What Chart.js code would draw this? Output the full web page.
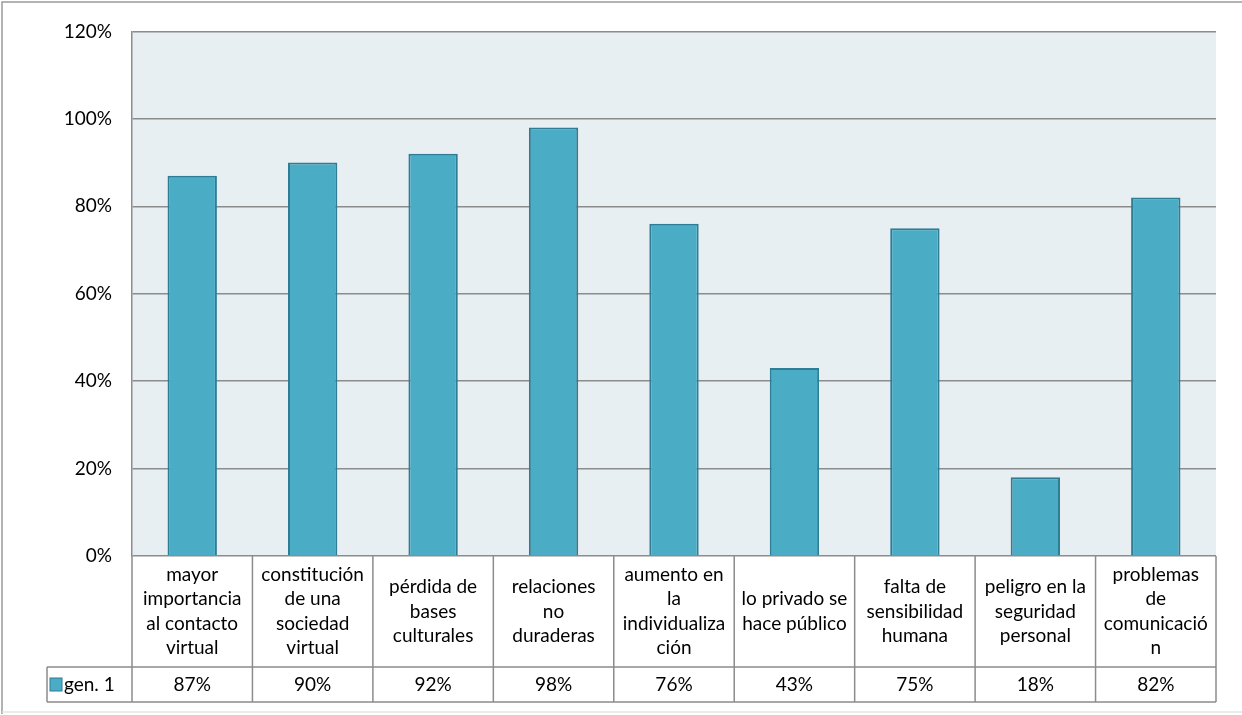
<!DOCTYPE html>
<html>
<head>
<meta charset="utf-8">
<script src="https://cdn.jsdelivr.net/npm/chart.js@4/dist/chart.umd.min.js"></script>
<style>
  body { margin: 0; background: #fff; }
  canvas { display: block; }
</style>
</head>
<body>
<canvas id="grafik" width="1242" height="715"></canvas>
<script>
// datos del grafico
const categorias = [
    ['mayor', 'importancia', 'al contacto', 'virtual'],
    ['constitución', 'de una', 'sociedad', 'virtual'],
    ['pérdida de', 'bases', 'culturales'],
    ['relaciones', 'no', 'duraderas'],
    ['aumento en', 'la', 'individualiza', 'ción'],
    ['lo privado se', 'hace público'],
    ['falta de', 'sensibilidad', 'humana'],
    ['peligro en la', 'seguridad', 'personal'],
    ['problemas', 'de', 'comunicació', 'n']
];
const serieNombre = 'gen. 1';
const valores = [0.87, 0.90, 0.92, 0.98, 0.76, 0.43, 0.75, 0.18, 0.82];
const ticksY = [0, 0.2, 0.4, 0.6, 0.8, 1.0, 1.2];

const FUENTE = 'Lato, "Open Sans", sans-serif';
const GRIS = '#8c8c8c';

const fmtPct = v => Math.round(v * 100) + '%';

// fondo del area de trazado
const fondoPlugin = {
    id: 'fondo',
    beforeDraw(chart) {
        const { ctx, chartArea: a } = chart;
        ctx.save();
        ctx.fillStyle = '#e8eff3';
        ctx.fillRect(a.left, a.top, a.right - a.left, a.bottom - a.top);
        ctx.restore();
    }
};

// tabla de datos debajo del grafico
const tablaPlugin = {
    id: 'tabla',
    afterDraw(chart) {
        const { ctx, chartArea: a } = chart;
        const x = chart.scales.x;
        const anchoCat = (a.right - a.left) / categorias.length;
        const filaTop = a.bottom;
        const filaMedio = filaTop + 111;
        const filaFin = filaMedio + 35;
        const leyIzq = 47;

        ctx.save();
        ctx.strokeStyle = GRIS;
        ctx.lineWidth = 1.5;

        // bordes de la tabla
        ctx.beginPath();
        ctx.moveTo(a.left, filaTop); ctx.lineTo(a.left, filaFin);
        ctx.moveTo(a.right, filaTop); ctx.lineTo(a.right, filaFin);
        ctx.moveTo(leyIzq, filaMedio); ctx.lineTo(a.right, filaMedio);
        ctx.moveTo(leyIzq, filaFin); ctx.lineTo(a.right, filaFin);
        ctx.moveTo(leyIzq, filaMedio); ctx.lineTo(leyIzq, filaFin);
        categorias.forEach((c, i) => {
            const xb = x.getPixelForValue(i) + anchoCat / 2;
            ctx.moveTo(xb, filaTop); ctx.lineTo(xb, filaFin);
        });
        ctx.stroke();

        // textos
        ctx.fillStyle = '#000';
        ctx.font = '19px ' + FUENTE;
        ctx.textAlign = 'center';
        ctx.textBaseline = 'middle';
        const alto = 24.5;
        categorias.forEach((lineas, i) => {
            const cx = x.getPixelForValue(i);
            const y0 = filaTop + 111 / 2 - (lineas.length - 1) * alto / 2;
            lineas.forEach((t, j) => ctx.fillText(t, cx, y0 + j * alto));
            ctx.fillText(fmtPct(valores[i]), cx, filaMedio + 35 / 2);
        });

        // leyenda
        ctx.fillStyle = '#4bacc6';
        ctx.strokeStyle = '#2e7d94';
        ctx.lineWidth = 1;
        ctx.fillRect(50, filaMedio + 11, 12, 13);
        ctx.strokeRect(50, filaMedio + 11, 12, 13);
        ctx.fillStyle = '#000';
        ctx.textAlign = 'left';
        ctx.fillText(serieNombre, 64, filaMedio + 35 / 2);

        // borde exterior
        ctx.strokeStyle = '#9a9a9a';
        ctx.lineWidth = 1.5;
        ctx.beginPath();
        ctx.moveTo(2, 714); ctx.lineTo(2, 2); ctx.lineTo(1242, 2);
        ctx.stroke();
        ctx.strokeStyle = '#e4e4e4';
        ctx.beginPath();
        ctx.moveTo(2, 712); ctx.lineTo(1242, 712);
        ctx.stroke();
        ctx.restore();
    }
};

new Chart(document.getElementById('grafik'), {
    type: 'bar',
    data: {
        labels: categorias.map(c => c.join(' ')),
        datasets: [{
            label: serieNombre,
            data: valores,
            backgroundColor: '#4bacc6',
            borderColor: '#2e7d94',
            borderWidth: 2,
            categoryPercentage: 1,
            barPercentage: 0.41
        }]
    },
    options: {
        responsive: false,
        animation: false,
        layout: { padding: { top: 31, right: 26, bottom: 159, left: 0 } },
        plugins: { legend: { display: false }, tooltip: { enabled: false } },
        scales: {
            x: { display: false },
            y: {
                min: 0,
                max: 1.2,
                afterFit(scale) { scale.width = 132; },
                afterBuildTicks(scale) { scale.ticks = ticksY.map(v => ({ value: v })); },
                ticks: {
                    callback: v => fmtPct(v),
                    color: '#000',
                    font: { family: FUENTE, size: 19 },
                    padding: 20
                },
                grid: { color: GRIS, lineWidth: 1.5, drawTicks: false },
                border: { color: GRIS, width: 1.5 }
            }
        }
    },
    plugins: [fondoPlugin, tablaPlugin]
});
</script>
</body>
</html>
